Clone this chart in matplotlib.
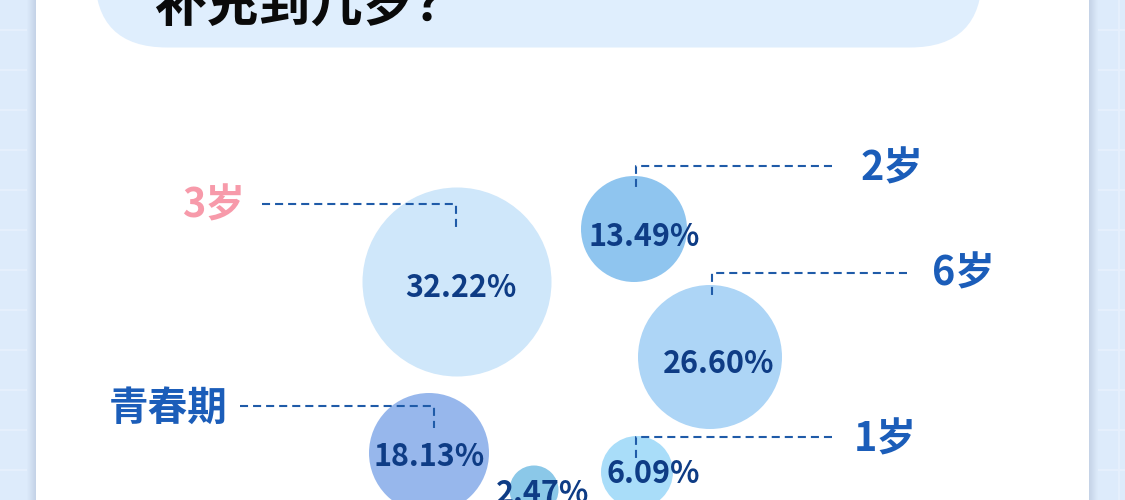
import matplotlib
matplotlib.use("Agg")
import matplotlib.pyplot as plt
from matplotlib.patches import Circle, FancyBboxPatch, Rectangle
import numpy as np

plt.rcParams['font.family'] = ['Noto Sans CJK SC', 'DejaVu Sans']
plt.rcParams['lines.scale_dashes'] = False

# ---------------- data ----------------
title = "补充到几岁？"
categories = ["3岁", "2岁", "6岁", "青春期", "1岁", ""]
values = [32.22, 13.49, 26.60, 18.13, 6.09, 2.47]

# ---------------- layout (pixels) ----------------
centers_x = [457, 634, 710, 429, 637, 534]
centers_y = [282, 229, 357, 453, 472, 490]
radii = [94.5, 53, 72, 60, 36, 24.5]
bubble_colors = ["#CFE7FA", "#8FC5EF", "#ADD5F6", "#97B7EC", "#A9DDF9", "#8BC8E8"]
value_dx = [4, 10, 9, 0, 16, 9]
value_dy = [6, 8, 7, 4, 2, 4]

leader_x = [456, 636, 712, 434, 636]
leader_y = [204, 166, 273, 406, 437]
leader_end_y = [227, 190, 298, 428, 458]
leader_far_x = [262, 832, 907, 240, 832]
label_x = [214, 892, 963, 168, 885]
label_y = [206, 169, 274, 408, 440]
label_colors = ["#F79AAA", "#1B5DB9", "#1B5DB9", "#1B5DB9", "#1B5DB9"]

W, H = 1125, 500
fig = plt.figure(figsize=(W / 100, H / 100), dpi=100)
fig.patch.set_facecolor("#DDEBFB")
ax = fig.add_axes([0, 0, 1, 1])
ax.set_xlim(0, W)
ax.set_ylim(H, 0)
ax.axis("off")
ax.set_facecolor("#DDEBFB")

# background grid
for y in np.arange(29.5, H, 40):
    ax.plot([0, W], [y, y], color="#E7F0FD", lw=1.2, zorder=1)
for x in np.arange(1119, 0, -40):
    ax.plot([x, x], [0, H], color="#E7F0FD", lw=1.2, zorder=1)

# shadows
def shadow(x0, x1, reverse=False):
    grad = np.linspace(0, 1, 50)
    if reverse:
        grad = grad[::-1]
    c0 = np.array([0xDD, 0xEB, 0xFB]) / 255
    c1 = np.array([0xC4, 0xD2, 0xE6]) / 255
    img = (c0[None, :] * (1 - grad[:, None]) + c1[None, :] * grad[:, None])[None, :, :]
    ax.imshow(img, extent=[x0, x1, H, 0], aspect="auto", zorder=2, interpolation="bilinear")

shadow(27, 36)
shadow(1089, 1098, reverse=True)

# white card
ax.add_patch(Rectangle((36, -10), 1089 - 36, H + 20, facecolor="white", edgecolor="none", zorder=3))

# title banner
ax.add_patch(FancyBboxPatch((95, -150), 982 - 95, 47.5 + 150,
                            boxstyle="round,pad=0,rounding_size=72",
                            facecolor="#DFEEFD", edgecolor="none", zorder=4))
ax.text(154, 21, title, fontsize=37.5, fontweight="bold", color="#0A0A0A",
        ha="left", va="baseline", zorder=5)

# bubbles
for i, v in enumerate(values):
    ax.add_patch(Circle((centers_x[i], centers_y[i]), radii[i],
                        facecolor=bubble_colors[i], edgecolor="none", zorder=6))
    ax.text(centers_x[i] + value_dx[i], centers_y[i] + value_dy[i], f"{v:.2f}%",
            fontsize=22, fontweight="bold", color="#0E3C85",
            ha="center", va="center", zorder=8)

# leaders and labels
for i in range(len(leader_x)):
    ax.plot([leader_far_x[i], leader_x[i], leader_x[i]],
            [leader_y[i], leader_y[i], leader_end_y[i]],
            color="#1F5BA8", lw=1.5, linestyle=(0, (5.8, 3.6)), zorder=7,
            solid_joinstyle="miter", dash_capstyle="butt")
    ax.text(label_x[i], label_y[i], categories[i], fontsize=28.5, fontweight="bold",
            color=label_colors[i], ha="center", va="center", zorder=8)

fig.savefig("out.png", dpi=100)
